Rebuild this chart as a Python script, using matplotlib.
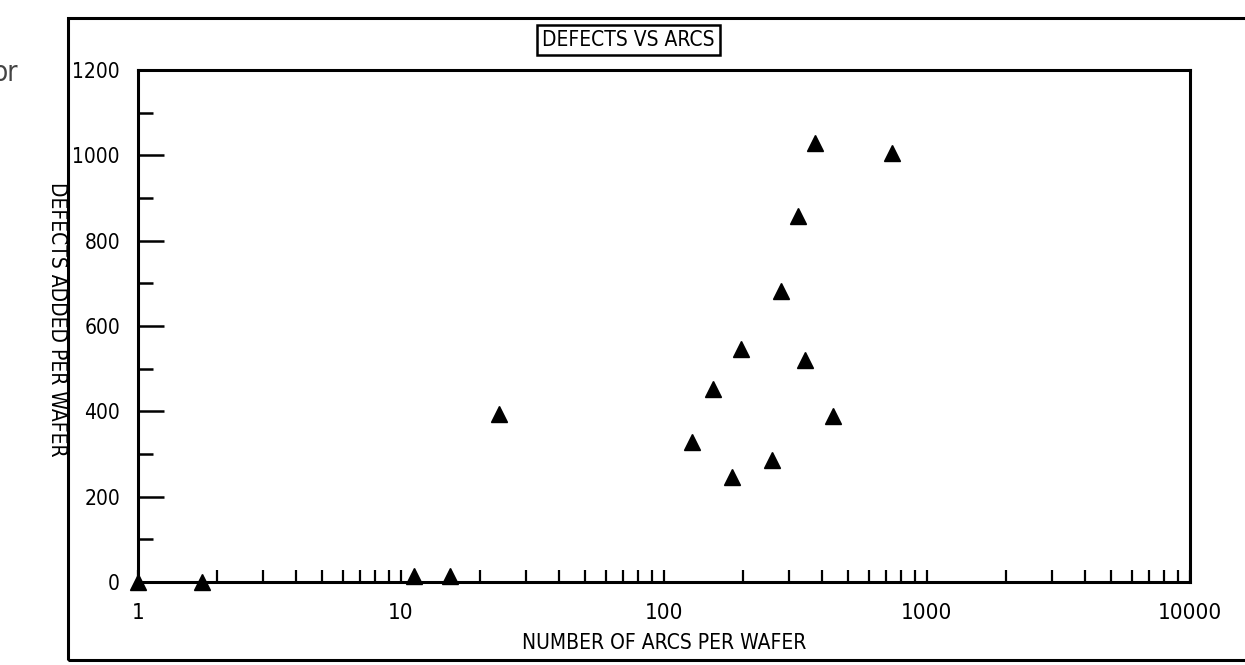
import numpy as np
import matplotlib
matplotlib.use('Agg')
import matplotlib.pyplot as plt
from matplotlib import ticker
from matplotlib.patches import Rectangle

plt.rcParams['font.family'] = ['DejaVu Sans']
plt.rcParams['font.stretch'] = 'condensed'

# arcs per wafer vs defects added per wafer
arcs = [1, 1.75, 11.2, 15.3, 23.6, 128, 154, 181, 196, 258, 279, 322, 345, 374, 438, 734]
defects = [0, 0, 15, 15, 393, 329, 452, 245, 546, 287, 682, 857, 520, 1028, 388, 1005]

x_ticks = [1, 10, 100, 1000, 10000]
x_labels = ['1', '10', '100', '1000', '10000']
y_ticks = [0, 200, 400, 600, 800, 1000, 1200]

fig = plt.figure(figsize=(12.45, 6.65), dpi=100)
ax = fig.add_axes([0.1108, 0.1248, 0.8450, 0.7699])

ax.plot(arcs, defects, '^', color='black', ms=12, clip_on=False)

ax.set_xscale('log')
ax.set_xlim(1, 10000)
ax.set_ylim(0, 1200)

ax.xaxis.set_major_locator(ticker.FixedLocator(x_ticks))
ax.xaxis.set_major_formatter(ticker.FixedFormatter(x_labels))
ax.xaxis.set_minor_locator(ticker.LogLocator(base=10, subs=np.arange(2, 10)))
ax.xaxis.set_minor_formatter(ticker.NullFormatter())
ax.set_yticks(y_ticks)
ax.yaxis.set_minor_locator(ticker.MultipleLocator(100))

ax.tick_params(axis='x', which='both', direction='in', length=9, width=1.6,
               pad=15, labelsize=16)
ax.tick_params(axis='y', which='major', direction='in', length=19, width=1.8,
               pad=13, labelsize=15)
ax.tick_params(axis='y', which='minor', direction='in', length=11, width=1.8)

for s in ax.spines.values():
    s.set_linewidth(2.2)

ax.set_xlabel('NUMBER OF ARCS PER WAFER', fontsize=15, labelpad=7)
fig.text(0.046, 0.52, 'DEFECTS ADDED PER WAFER', rotation=-90, fontsize=15,
         ha='center', va='center')

fig.text(0.505, 0.94, 'DEFECTS VS ARCS', fontsize=15, ha='center', va='center',
         bbox=dict(boxstyle='square,pad=0.25', fc='white', ec='black', lw=1.8))

# outer frame of the scanned page
fig.patches.append(Rectangle((0.0546, 0.008), 1.0, 0.965, transform=fig.transFigure,
                             fill=False, ec='black', lw=2.2))
fig.text(-0.006, 0.89, 'or', fontsize=20, color='#444444', ha='left', va='center')

fig.savefig('out.png', dpi=100)
